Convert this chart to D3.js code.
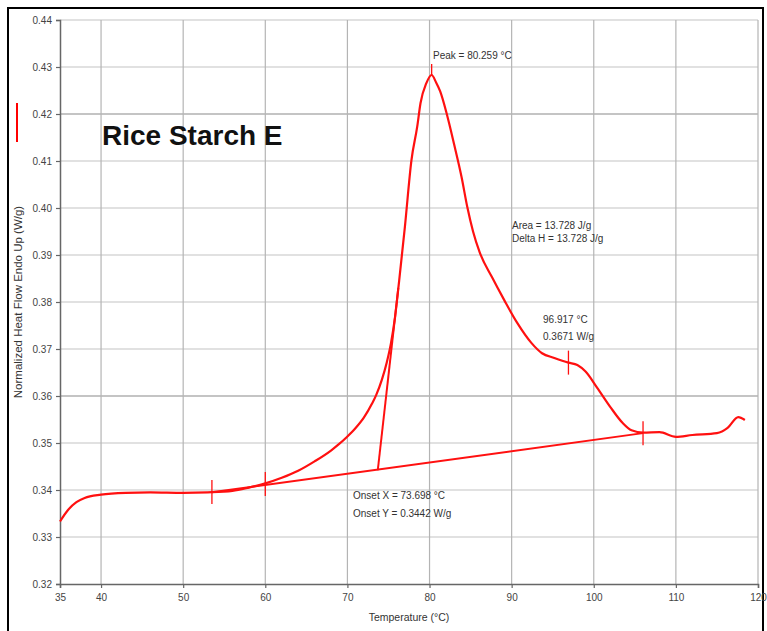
<!DOCTYPE html>
<html>
<head>
<meta charset="utf-8">
<script src="https://cdn.jsdelivr.net/npm/d3@7"></script>
<style>
  html, body { margin: 0; padding: 0; background: #fff; }
  svg { display: block; }
  text { font-family: "Liberation Sans", Arial, sans-serif; }
</style>
</head>
<body>
<svg id="chart" width="767" height="631"></svg>
<script>
// ---- Data ----
const temperature = [35, 36, 37, 38, 40, 43, 46, 50, 53, 56, 58, 60, 62, 64, 66, 68, 69, 70, 71, 72, 73, 73.5, 74.2, 74.8, 75.3, 75.8, 76.3, 77.0, 77.8, 78.5, 78.9, 79.6, 80.259, 80.8, 81.3, 82.1, 83.0, 83.9, 84.6, 85.3, 86.1, 87.6, 89.1, 90.7, 92.4, 93.7, 95.2, 96.917, 98.0, 99.0, 100.4, 102.0, 103.5, 104.6, 106.0, 108.0, 110.0, 112.0, 115.0, 116.3, 117.6, 118.4];
const heatFlow = [0.3333, 0.3358, 0.3374, 0.3383, 0.3390, 0.3394, 0.3395, 0.3394, 0.3395, 0.3398, 0.3405, 0.3414, 0.3426, 0.3441, 0.3461, 0.3484, 0.3498, 0.3514, 0.3532, 0.3554, 0.3584, 0.3602, 0.3635, 0.3672, 0.3712, 0.3768, 0.3845, 0.3960, 0.4102, 0.4173, 0.4223, 0.4265, 0.4283, 0.4267, 0.4248, 0.4200, 0.4135, 0.4066, 0.4002, 0.3950, 0.3906, 0.3853, 0.3804, 0.3755, 0.3713, 0.3691, 0.3681, 0.3671, 0.3666, 0.3652, 0.3618, 0.3577, 0.3543, 0.3527, 0.3522, 0.3523, 0.3513, 0.3517, 0.3521, 0.3532, 0.3555, 0.3549];

const baselineT = [53.5, 106.0];
const baselineY = [0.3395, 0.3521];

const tangentT = [73.698, 76.2];
const tangentY = [0.3442, 0.3830];

const markerT = [53.5, 60.0, 96.917, 106.0];
const markerY = [0.3396, 0.3413, 0.3671, 0.3521];

const peakT = 80.259;
const peakY = 0.4283;

const xTicks = [35, 40, 50, 60, 70, 80, 90, 100, 110, 120];
const xGrid = [40, 50, 60, 70, 80, 90, 100, 110, 120];
const yTicks = [0.32, 0.33, 0.34, 0.35, 0.36, 0.37, 0.38, 0.39, 0.40, 0.41, 0.42, 0.43, 0.44];
const yDarkGrid = [0.42, 0.36];

const chartTitle = "Rice Starch E";
const xTitle = "Temperature (°C)";
const yTitle = "Normalized Heat Flow Endo Up (W/g)";
const annotations = [
  { text: ["Peak = 80.259 °C"], x: 80.42, y: 0.4317, gap: 14 },
  { text: ["Area = 13.728 J/g", "Delta H = 13.728 J/g"], x: 90.04, y: 0.3955, gap: 13 },
  { text: ["96.917 °C", "0.3671 W/g"], x: 93.82, y: 0.3755, gap: 17 },
  { text: ["Onset X = 73.698 °C", "Onset Y = 0.3442 W/g"], x: 70.68, y: 0.3381, gap: 18 }
];

// ---- Drawing ----
const svg = d3.select("#chart");
const x = d3.scaleLinear().domain([35, 120]).range([60, 758]);
const y = d3.scaleLinear().domain([0.32, 0.44]).range([584, 20]);

// outer frame
svg.append("rect").attr("x", 8).attr("y", 8).attr("width", 755).attr("height", 630)
  .attr("fill", "none").attr("stroke", "#000").attr("stroke-width", 2);

// grid
const grid = svg.append("g");
grid.selectAll("line.h").data(yTicks.filter(d => d > 0.32)).join("line")
  .attr("x1", x(35)).attr("x2", x(120))
  .attr("y1", d => y(d)).attr("y2", d => y(d))
  .attr("stroke", d => yDarkGrid.some(v => Math.abs(v - d) < 1e-6) ? "#8a8a8a" : "#c4c4c4")
  .attr("stroke-width", 1.2);
grid.selectAll("line.v").data(xGrid).join("line")
  .attr("y1", y(0.32)).attr("y2", y(0.44))
  .attr("x1", d => x(d)).attr("x2", d => x(d))
  .attr("stroke", "#b4b4b4").attr("stroke-width", 1.2);

// axes
const xAxis = d3.axisBottom(x).tickValues(xTicks).tickSize(4).tickFormat(d3.format("d"));
const yAxis = d3.axisLeft(y).tickValues(yTicks).tickSize(4).tickFormat(d3.format(".2f"));
const gx = svg.append("g").attr("transform", `translate(0,${y(0.32)})`).call(xAxis);
const gy = svg.append("g").attr("transform", `translate(${x(35)},0)`).call(yAxis);
[gx, gy].forEach(g => {
  g.select(".domain").attr("stroke", "#666").attr("stroke-width", 1.5);
  g.selectAll(".tick line").attr("stroke", "#666").attr("stroke-width", 1.2);
  g.selectAll(".tick text").attr("fill", "#444").attr("font-size", 10)
    .attr("font-family", '"Liberation Sans", Arial, sans-serif');
});
gx.selectAll(".tick text").attr("dy", "0.95em").attr("y", 7);
gy.selectAll(".tick text").attr("x", -8);

// axis titles
svg.append("text").attr("x", 409).attr("y", 621).attr("text-anchor", "middle")
  .attr("font-size", 10.5).attr("fill", "#333").text(xTitle);
svg.append("text").attr("transform", "translate(22,302) rotate(-90)")
  .attr("text-anchor", "middle").attr("font-size", 11.5).attr("fill", "#333").text(yTitle);

// legend swatch
svg.append("line").attr("x1", 17).attr("x2", 17).attr("y1", 103).attr("y2", 142)
  .attr("stroke", "#ff0000").attr("stroke-width", 2);

// title
svg.append("text").attr("x", 102).attr("y", 145).attr("font-size", 28).attr("font-weight", "bold")
  .attr("fill", "#111").text(chartTitle);

// curves
const red = "#ff1010";
const pts = temperature.map((t, i) => [t, heatFlow[i]]);
const line = d3.line().x(d => x(d[0])).y(d => y(d[1])).curve(d3.curveMonotoneX);
svg.append("path").datum(pts).attr("d", line)
  .attr("fill", "none").attr("stroke", red).attr("stroke-width", 2.2).attr("stroke-linejoin", "round");

const straight = d3.line().x(d => x(d[0])).y(d => y(d[1]));
svg.append("path").datum(baselineT.map((t, i) => [t, baselineY[i]])).attr("d", straight)
  .attr("fill", "none").attr("stroke", red).attr("stroke-width", 2);
svg.append("path").datum(tangentT.map((t, i) => [t, tangentY[i]])).attr("d", straight)
  .attr("fill", "none").attr("stroke", red).attr("stroke-width", 2);

// markers (vertical cross ticks)
svg.append("g").selectAll("line").data(markerT.map((t, i) => [t, markerY[i]])).join("line")
  .attr("x1", d => x(d[0])).attr("x2", d => x(d[0]))
  .attr("y1", d => y(d[1]) - 12).attr("y2", d => y(d[1]) + 12)
  .attr("stroke", red).attr("stroke-width", 1.3);
svg.append("line").attr("x1", x(peakT)).attr("x2", x(peakT))
  .attr("y1", y(peakY) - 11).attr("y2", y(peakY))
  .attr("stroke", red).attr("stroke-width", 1.3);

// annotations
annotations.forEach(a => {
  const t = svg.append("text").attr("x", x(a.x)).attr("y", y(a.y))
    .attr("font-size", 10).attr("fill", "#333");
  a.text.forEach((s, i) => {
    t.append("tspan").attr("x", x(a.x)).attr("dy", i === 0 ? 0 : a.gap).text(s);
  });
});
</script>
</body>
</html>
